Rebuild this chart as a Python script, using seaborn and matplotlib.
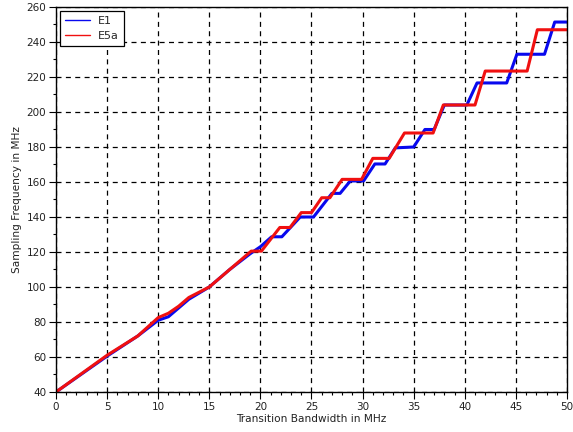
import matplotlib
matplotlib.use("Agg")
import matplotlib.pyplot as plt
import seaborn as sns
import pandas as pd
from matplotlib.ticker import MultipleLocator

# ---- data ----
e1_x = [0, 5, 8, 10, 11, 12, 13, 15, 17, 19, 20, 21.1, 22.1, 23.9, 25.2, 27.0, 27.8,
        28.8, 30.1, 31.2, 32.2, 33.2, 35.0, 36.1, 37.0, 38.0, 40.2, 41.2, 44.1, 45.1,
        47.8, 48.8, 50]
e1_y = [40, 60.5, 72, 81, 83, 88, 93, 100, 110, 119, 123, 128.7, 128.7, 140, 140, 153.5,
        153.5, 160.6, 160.6, 170.3, 170.3, 179.5, 180, 190, 190, 204, 204, 216.6, 216.6,
        233, 233, 251.4, 251.4]

e5a_x = [0, 5, 8, 10, 11, 12, 13, 15, 17, 19.1, 20.1, 21.9, 22.9, 24.0, 25.0, 26.0, 26.8,
         28.0, 29.9, 31.0, 32.6, 34.1, 36.9, 37.9, 41.0, 42.0, 46.1, 47.1, 50]
e5a_y = [40, 61, 72, 82.5, 85, 89, 94, 100, 110, 120.5, 120.5, 134, 134, 142.5, 142.5,
         151, 151, 161.5, 161.5, 173.5, 173.5, 188, 188, 204, 204, 223.4, 223.4, 247, 247]

series_names = ["E1", "E5a"]
x_label = "Transition Bandwidth in MHz"
y_label = "Sampling Frequency in MHz"

df = pd.concat([
    pd.DataFrame({"bw": e1_x, "fs": e1_y, "signal": series_names[0]}),
    pd.DataFrame({"bw": e5a_x, "fs": e5a_y, "signal": series_names[1]}),
], ignore_index=True)

sns.set_style("white")
plt.rcParams['font.family'] = ['DejaVu Sans']

fig = plt.figure(figsize=(5.73, 4.32), dpi=100)
ax = fig.add_axes([0.0977, 0.0926, 0.8918, 0.8912])

sns.lineplot(data=df, x="bw", y="fs", hue="signal", estimator=None, sort=False,
             palette={"E1": "#0808ee", "E5a": "#f01010"}, linewidth=2.2, ax=ax)

ax.set_xlim(0, 50)
ax.set_ylim(40, 260)
ax.xaxis.set_major_locator(MultipleLocator(5))
ax.xaxis.set_minor_locator(MultipleLocator(1))
ax.yaxis.set_major_locator(MultipleLocator(20))
ax.yaxis.set_minor_locator(MultipleLocator(10))
ax.grid(True, which="major", color="black", linestyle=(0, (4, 3.5)), linewidth=0.9)
ax.set_axisbelow(True)

for s in ax.spines.values():
    s.set_color("black")
    s.set_linewidth(1.0)
    s.set_visible(True)

ax.tick_params(which="major", direction="out", length=5, width=0.8, colors="black",
               labelsize=7.5, labelcolor="#222222", bottom=True, left=True, pad=2)
ax.tick_params(which="minor", direction="out", length=2.5, width=0.8, colors="black",
               bottom=True, left=True)

ax.set_xlabel(x_label, fontsize=7.6, color="#222222", labelpad=2)
ax.set_ylabel(y_label, fontsize=7.6, color="#222222", labelpad=3)

leg = ax.legend(loc="upper left", fontsize=8, frameon=True, fancybox=False,
                edgecolor="black", framealpha=1, borderpad=0.45, handlelength=2.3,
                handletextpad=0.7, labelspacing=0.45, borderaxespad=0.35, title=None)
leg.get_frame().set_linewidth(0.9)
for h in leg.get_lines():
    h.set_linewidth(1.0)

fig.savefig("out.png", dpi=100)
